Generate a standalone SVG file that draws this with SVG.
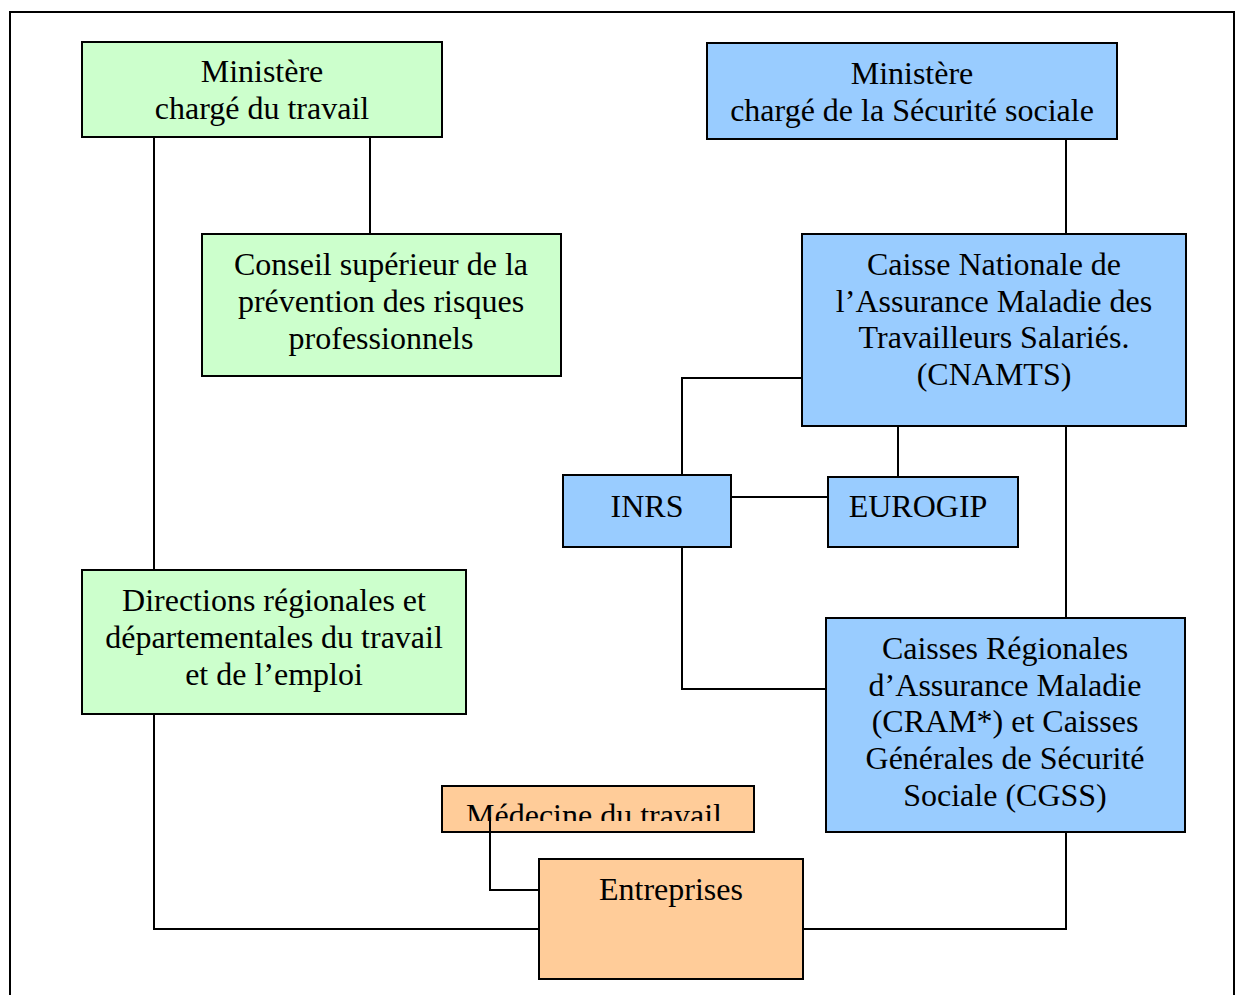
<svg xmlns="http://www.w3.org/2000/svg" width="1236" height="995" viewBox="0 0 1236 995">
<style>
.g{fill:#CCFFCC;stroke:#000;stroke-width:2}
.b{fill:#99CCFF;stroke:#000;stroke-width:2}
.o{fill:#FFCC99;stroke:#000;stroke-width:2}
text{font-family:"Liberation Serif","Times New Roman",serif;font-size:32px;fill:#000;text-anchor:middle}
.c{fill:none;stroke:#000;stroke-width:2}
</style>
<defs><clipPath id="mc"><rect x="443" y="787" width="310" height="34"/></clipPath></defs>
<rect x="10" y="12" width="1224" height="1000" fill="#fff" stroke="#000" stroke-width="2"/>
<g id="connectors">
<path class="c" d="M154 137V570"/>
<path class="c" d="M370 137V234"/>
<path class="c" d="M1066 139V234"/>
<path class="c" d="M802 378H682V475"/>
<path class="c" d="M898 426V477"/>
<path class="c" d="M731 497H828"/>
<path class="c" d="M682 547V689H826"/>
<path class="c" d="M1066 426V618"/>
<path class="c" d="M154 714V929H539"/>
<path class="c" d="M1066 832V929H803"/>
</g>
<g id="min-travail"><rect class="g" x="82" y="42" width="360" height="95"/><text x="262" y="82">Ministère</text><text x="262" y="119">chargé du travail</text></g>
<g id="min-secu"><rect class="b" x="707" y="43" width="410" height="96"/><text x="912" y="84">Ministère</text><text x="912" y="121">chargé de la Sécurité sociale</text></g>
<g id="conseil"><rect class="g" x="202" y="234" width="359" height="142"/><text x="381" y="275">Conseil supérieur de la</text><text x="381" y="312">prévention des risques</text><text x="381" y="349">professionnels</text></g>
<g id="cnamts"><rect class="b" x="802" y="234" width="384" height="192"/><text x="994" y="275">Caisse Nationale de</text><text x="994" y="312">l’Assurance Maladie des</text><text x="994" y="348">Travailleurs Salariés.</text><text x="994" y="385">(CNAMTS)</text></g>
<g id="inrs"><rect class="b" x="563" y="475" width="168" height="72"/><text x="647" y="517">INRS</text></g>
<g id="eurogip"><rect class="b" x="828" y="477" width="190" height="70"/><text x="918" y="517">EUROGIP</text></g>
<g id="directions"><rect class="g" x="82" y="570" width="384" height="144"/><text x="274" y="611">Directions régionales et</text><text x="274" y="648">départementales du travail</text><text x="274" y="685">et de l’emploi</text></g>
<g id="cram"><rect class="b" x="826" y="618" width="359" height="214"/><text x="1005" y="659">Caisses Régionales</text><text x="1005" y="696">d’Assurance Maladie</text><text x="1005" y="732">(CRAM*) et Caisses</text><text x="1005" y="769">Générales de Sécurité</text><text x="1005" y="806">Sociale (CGSS)</text></g>
<g id="medecine"><rect class="o" x="442" y="786" width="312" height="46"/><text x="594" y="826" clip-path="url(#mc)">Médecine du travail</text></g>
<g id="entreprises"><rect class="o" x="539" y="859" width="264" height="120"/><text x="671" y="900">Entreprises</text></g>
<g id="connector-medecine"><path class="c" d="M490 817V890H539"/></g>
</svg>
